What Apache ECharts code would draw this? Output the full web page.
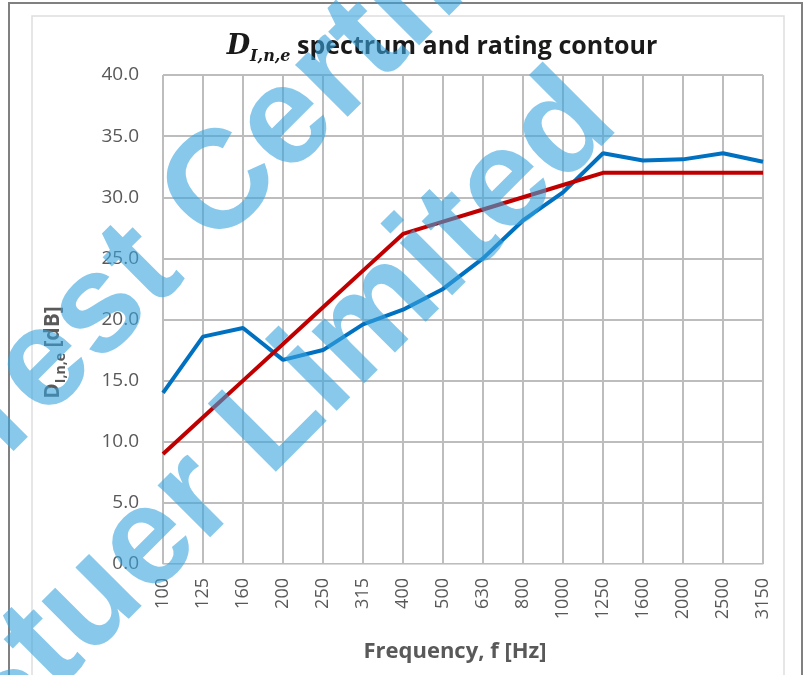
<!DOCTYPE html>
<html>
<head>
<meta charset="utf-8">
<script src="https://cdn.jsdelivr.net/npm/echarts@6/dist/echarts.min.js"></script>
<style>
  html, body { margin: 0; padding: 0; background: #fff; }
  #chart { width: 808px; height: 675px; }
</style>
</head>
<body>
<div id="chart"></div>
<script>
// 1/3 octave band centre frequencies
const frequencies = ['100', '125', '160', '200', '250', '315', '400', '500', '630', '800', '1000', '1250', '1600', '2000', '2500', '3150']
// measured D_I,n,e spectrum
const spectrum = [14.0, 18.6, 19.3, 16.7, 17.5, 19.6, 20.8, 22.5, 25.0, 28.1, 30.4, 33.6, 33.0, 33.1, 33.6, 32.9]
// shifted reference (rating) contour
const contour = [9, 12, 15, 18, 21, 24, 27, 28, 29, 30, 31, 32, 32, 32, 32, 32]
const yTicks = { min: 0, max: 40, interval: 5 }

const chart = echarts.init(document.getElementById('chart'))
const font = '"Open Sans", "DejaVu Sans", sans-serif'
const wmRot = Math.PI / 4
const wmFont = 'bold 140px "Liberation Sans", Arial, sans-serif'
const wmFill = 'rgba(55, 163, 222, 0.6)'

const option = {
  animation: false,
  backgroundColor: '#fff',
  textStyle: { fontFamily: font },
  title: {
    text: '{d|D}{sub|I,n,e}{t| spectrum and rating contour}',
    left: 437,
    top: 24,
    textAlign: 'center',
    textStyle: {
      rich: {
        d: { fontFamily: '"DejaVu Serif", serif', fontStyle: 'italic', fontWeight: 'bold', fontSize: 27, color: '#1a1a1a' },
        sub: { fontFamily: '"DejaVu Serif", serif', fontStyle: 'italic', fontWeight: 'bold', fontSize: 16, color: '#1a1a1a', verticalAlign: 'bottom', lineHeight: 36 },
        t: { fontFamily: font, fontWeight: 'bold', fontSize: 25, color: '#1a1a1a' },
      },
    },
  },
  grid: { left: 163, right: 45, top: 75, bottom: 111 },
  xAxis: {
    type: 'category',
    data: frequencies,
    boundaryGap: false,
    name: 'Frequency, f [Hz]',
    nameLocation: 'middle',
    nameGap: 77,
    nameTextStyle: { fontFamily: font, fontWeight: 'bold', fontSize: 22, color: '#595959', padding: [0, 16, 0, 0] },
    axisLine: { lineStyle: { color: '#d9d9d9', width: 1 } },
    axisTick: { show: false },
    axisLabel: { rotate: 90, margin: 14, fontSize: 18, color: '#595959', interval: 0 },
    splitLine: { show: true, interval: 0, lineStyle: { color: '#bdbdbd', width: 2 } },
  },
  yAxis: {
    type: 'value',
    min: yTicks.min,
    max: yTicks.max,
    interval: yTicks.interval,
    name: '{d|D}{sub|I,n,e}{t| [dB]}',
    nameLocation: 'middle',
    nameGap: 95,
    nameTextStyle: {
      padding: [0, 66, 0, 0],
      rich: {
        d: { fontFamily: font, fontWeight: 'bold', fontSize: 21, color: '#595959' },
        sub: { fontFamily: font, fontWeight: 'bold', fontSize: 14, color: '#595959', verticalAlign: 'bottom', lineHeight: 30 },
        t: { fontFamily: font, fontWeight: 'bold', fontSize: 21, color: '#595959' },
      },
    },
    axisLine: { show: false },
    axisTick: { show: false },
    axisLabel: { margin: 24, fontSize: 19, color: '#595959', formatter: (v) => v.toFixed(1) },
    splitLine: { lineStyle: { color: '#bdbdbd', width: 2 } },
  },
  series: [
    {
      name: 'spectrum',
      type: 'line',
      data: spectrum,
      symbol: 'none',
      lineStyle: { color: '#0070c0', width: 4 },
    },
    {
      name: 'contour',
      type: 'line',
      data: contour,
      symbol: 'none',
      lineStyle: { color: '#c00000', width: 4 },
    },
  ],
  graphic: [
    // chart frame
    { type: 'rect', shape: { x: 9, y: 3, width: 793, height: 690 }, style: { fill: 'none', stroke: '#808080', lineWidth: 2 }, z: 1 },
    { type: 'rect', shape: { x: 32, y: 16, width: 752, height: 680 }, style: { fill: 'none', stroke: '#dedede', lineWidth: 1.5 }, z: 1 },
    // watermark
    { type: 'text', x: 187, y: 223, rotation: wmRot, z: 100, style: { text: 'Certified', font: wmFont, fill: wmFill, textAlign: 'left', textVerticalAlign: 'middle' } },
    { type: 'text', x: 187, y: 223, rotation: wmRot, z: 100, style: { text: 'Test ', font: wmFont, fill: wmFill, textAlign: 'right', textVerticalAlign: 'middle' } },
    { type: 'text', x: 242, y: 451, rotation: wmRot, z: 100, style: { text: 'Limited', font: wmFont, fill: wmFill, textAlign: 'left', textVerticalAlign: 'middle' } },
    { type: 'text', x: 242, y: 451, rotation: wmRot, z: 100, style: { text: 'Stuer ', font: wmFont, fill: wmFill, textAlign: 'right', textVerticalAlign: 'middle' } },
  ],
}
chart.setOption(option)
</script>
</body>
</html>
